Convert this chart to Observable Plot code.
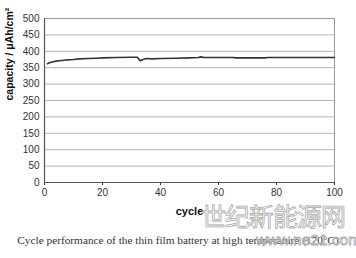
<!DOCTYPE html>
<html>
<head>
<meta charset="utf-8">
<script src="https://cdn.jsdelivr.net/npm/d3@7"></script>
<script src="https://cdn.jsdelivr.net/npm/@observablehq/plot@0.6"></script>
<style>
  html, body { margin: 0; padding: 0; background: #fff; }
  #wrap { position: relative; width: 356px; height: 258px; overflow: hidden; }
  #caption { position: absolute; left: 0; top: 234px; width: 356px; text-align: center;
    font-family: "Liberation Serif", "DejaVu Serif", serif; font-size: 11.3px; color: #333; }
  .wm { position: absolute; font-family: "Noto Sans CJK SC", sans-serif; color: rgba(255,255,255,0.55);
    -webkit-text-stroke: 0.8px #aaa; white-space: nowrap; line-height: 1; }
</style>
</head>
<body>
<div id="wrap">
  <div id="chart"></div>
  <div id="caption">Cycle performance of the thin film battery at high temperature (170°C)</div>
  <div class="wm" style="left:201px; top:203px; font-size:25px; letter-spacing:-1px;">世纪新能源网</div>
  <div class="wm" style="left:256px; top:232px; font-size:15.5px; font-family:'Liberation Sans',sans-serif;">www.ne21.com</div>
</div>
<script>
const cycles =     [1,   2,   3,   4,   5,   6,   8,   10,  12,  15,  18,  20,  25,  30,  32,  33,  34,  35,  37,  40,  45,  50,  53,  54,  55,  60,  65,  66,  70,  76,  77,  80,  85,  90,  95,  100];
const capacities = [362, 366, 368, 370, 371, 372, 374, 375, 377, 378, 379, 380, 381, 382, 382, 371, 375, 378, 377, 378, 379, 380, 381, 383, 381, 381, 381, 380, 380, 380, 381, 381, 381, 381, 381, 381];
const yTicks = [0, 50, 100, 150, 200, 250, 300, 350, 400, 450, 500];
const xTicks = [0, 20, 40, 60, 80, 100];

const data = cycles.map((c, i) => ({cycle: c, capacity: capacities[i]}));

const chart = Plot.plot({
  width: 356,
  height: 228,
  marginLeft: 44,
  marginRight: 22,
  marginTop: 18,
  marginBottom: 46,
  style: {fontFamily: "Liberation Sans, Arial, sans-serif", fontSize: "10px", color: "#333", background: "#fff"},
  x: {domain: [0, 100], ticks: xTicks, label: null},
  y: {domain: [0, 500], ticks: yTicks, label: null},
  marks: [
    Plot.gridY(yTicks, {stroke: "#b5b5b5", strokeOpacity: 1, strokeWidth: 1}),
    Plot.ruleY([500], {stroke: "#999", strokeWidth: 1}),
    Plot.ruleX([100], {stroke: "#999", strokeWidth: 1}),
    Plot.axisY({ticks: yTicks, tickSize: 0, tickPadding: 5, fontSize: 10, label: null}),
    Plot.axisX({ticks: xTicks, tickSize: 3, tickPadding: 3, fontSize: 10, label: null}),
    Plot.ruleX([0], {stroke: "#555", strokeWidth: 1.2}),
    Plot.ruleY([0], {stroke: "#555", strokeWidth: 1.2}),
    Plot.line(data, {x: "cycle", y: "capacity", stroke: "#333", strokeWidth: 1.6}),
    Plot.text(["cycle"], {frameAnchor: "bottom", dy: 32, fontWeight: "bold", fontSize: 11, fill: "#111"}),
    Plot.text(["capacity / μAh/cm²"], {frameAnchor: "left", dx: -35, rotate: -90, fontWeight: "bold", fontSize: 10.5, fill: "#111"})
  ]
});
document.getElementById("chart").appendChild(chart);
</script>
</body>
</html>
